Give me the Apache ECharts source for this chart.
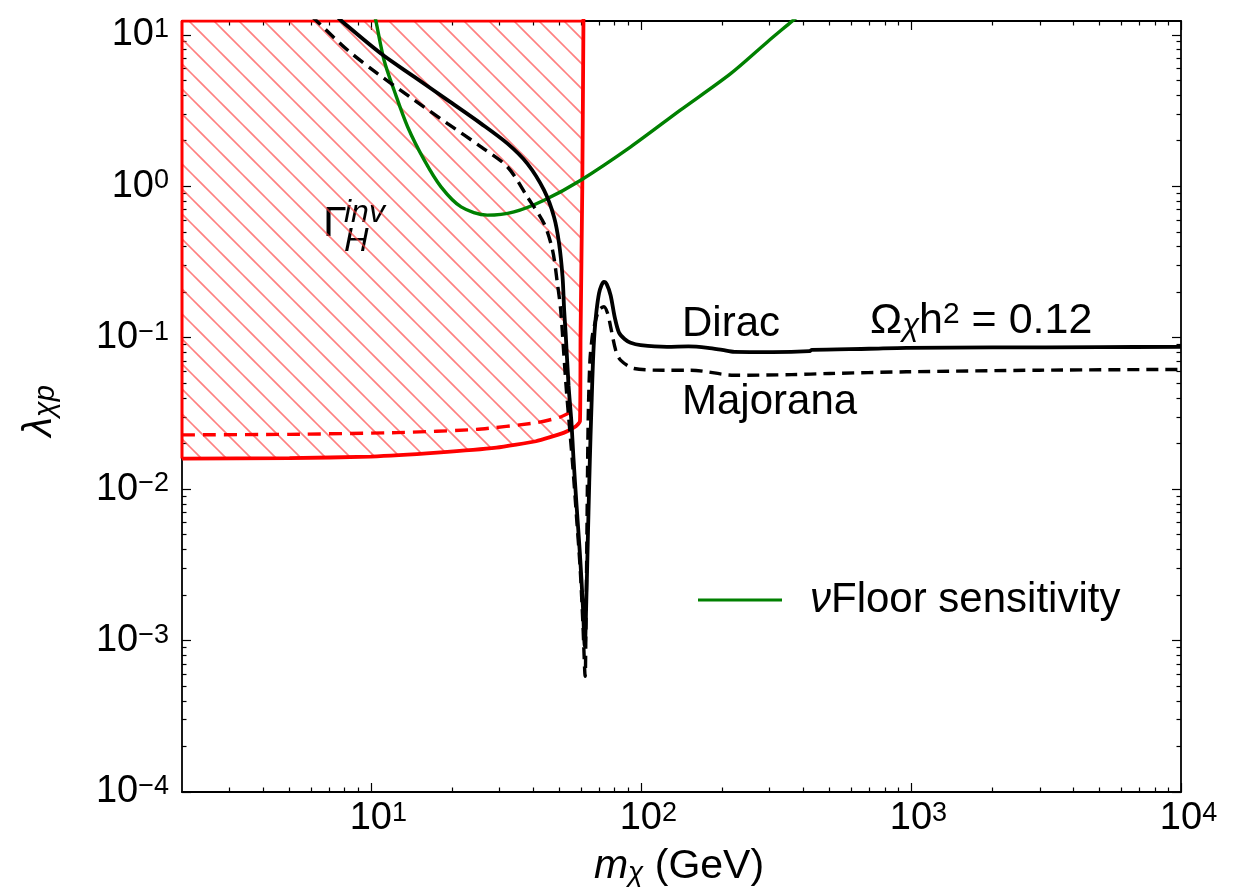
<!DOCTYPE html>
<html>
<head>
<meta charset="utf-8">
<script src="https://cdn.jsdelivr.net/npm/echarts@6.0.0/dist/echarts.min.js"></script>
<style>
html,body{margin:0;padding:0;background:#ffffff;}
#chart{width:1244px;height:890px;}
</style>
</head>
<body>
<div id="chart"></div>
<script>
// ---------------- data ----------------
const X_MIN = 2, X_MAX = 10000;
const Y_MIN = 1e-4, Y_MAX = 12.33;

const X_MAJOR = [10, 100, 1000, 10000];
const X_EXP = ['1', '2', '3', '4'];
const Y_MAJOR = [1e-4, 1e-3, 1e-2, 1e-1, 1, 10];
const Y_EXP = ['\u22124', '\u22123', '\u22122', '\u22121', '0', '1'];
const MINOR_MANTISSA = [2, 3, 4, 5, 6, 7, 8, 9];

// Dirac, Omega h^2 = 0.12 (solid black)
const dirac_mass = [7.5, 7.87, 10.9, 14.5, 19.25, 25.6, 32.1, 38.0, 43.8, 47.7, 49.8, 51.3, 52.0, 52.7, 54.0, 55.3, 56.3, 57.8, 59.5, 61.0, 62.0, 62.8, 63.6, 64.4, 65.1, 65.8, 66.5, 67.4, 68.5, 70.0, 71.5, 73.0, 74.8, 77.3, 80.0, 83.0, 87.0, 91.7, 99.8, 125, 150, 177, 200, 222, 308, 420, 430, 700, 963, 2000, 5000, 10000];
const dirac_lambda = [13.2, 12.15, 7.52, 5.27, 3.70, 2.59, 1.91, 1.41, 0.941, 0.627, 0.419, 0.252, 0.152, 0.105, 0.048, 0.028, 0.016, 0.0078, 0.0037, 0.0017, 0.00092, 0.0018, 0.0045, 0.011, 0.022, 0.04, 0.07, 0.11, 0.15, 0.196, 0.222, 0.2335, 0.225, 0.19, 0.137, 0.108, 0.098, 0.0925, 0.0892, 0.087, 0.0875, 0.0857, 0.083, 0.0806, 0.0803, 0.0815, 0.083, 0.0845, 0.0857, 0.0862, 0.0866, 0.0870];

// Majorana (dashed black)
const majorana_mass = [6.05, 6.36, 8.22, 10.6, 14.5, 19.25, 25.6, 32.1, 38.0, 43.8, 47.1, 49.1, 50.5, 51.8, 53.0, 54.5, 56.0, 57.8, 59.6, 61.0, 62.2, 62.6, 62.9, 63.2, 63.5, 63.9, 64.8, 66.0, 67.1, 70.0, 73.0, 75.3, 77.3, 80.7, 84.1, 94.3, 121.6, 153, 222, 362, 500, 963, 3000, 10000];
const majorana_lambda = [13.2, 12.15, 7.90, 5.54, 3.70, 2.59, 1.82, 1.34, 0.85, 0.567, 0.378, 0.228, 0.152, 0.08, 0.045, 0.025, 0.014, 0.0065, 0.003, 0.0013, 0.00058, 0.0012, 0.0025, 0.006, 0.014, 0.032, 0.071, 0.1, 0.118, 0.152, 0.16, 0.145, 0.118, 0.0827, 0.0711, 0.0626, 0.061, 0.061, 0.0565, 0.057, 0.058, 0.0595, 0.061, 0.0617];

// neutrino floor sensitivity (green)
const floor_mass = [10.33, 10.45, 11.2, 12.2, 13.7, 15.8, 18.2, 21.6, 27.0, 33.9, 43.8, 59.9, 91.7, 140, 215, 294, 363, 380];
const floor_lambda = [13.5, 12.3, 6.79, 4.30, 2.46, 1.48, 0.99, 0.730, 0.644, 0.677, 0.808, 1.096, 1.82, 3.18, 5.54, 8.97, 12.3, 13.2];

// invisible Higgs width bound, Dirac (solid red, hatched region above)
const higgs_dirac_mass = [2, 5, 10, 17.6, 29.2, 40.9, 52.0, 57.5, 59.5, 59.8, 60.7, 61.3, 61.35];
const higgs_dirac_lambda = [0.0159, 0.0160, 0.0164, 0.0174, 0.01876, 0.0207, 0.0236, 0.026, 0.028, 0.1, 1, 12.33, 14];

// invisible Higgs width bound, Majorana (dashed red)
const higgs_majorana_mass = [2, 5, 12.5, 24.6, 40.9, 50, 54.8];
const higgs_majorana_lambda = [0.0228, 0.0230, 0.0236, 0.0248, 0.0274, 0.0298, 0.0322];

// ---------------- helpers ----------------
const L = Math.log10;
const toLog = (xs, ys) => xs.map((x, i) => [L(x), L(ys[i])]);
function minorTicks(lo, hi) {
  const out = [];
  for (let k = Math.floor(L(lo)) - 1; k <= Math.ceil(L(hi)); k++) {
    for (const m of MINOR_MANTISSA) {
      const v = m * Math.pow(10, k);
      if (v > lo * 1.001 && v < hi * 0.999) out.push(L(v));
    }
  }
  return out;
}
const FONT = '"Liberation Sans", Arial, Helvetica, sans-serif';

// hatch pattern
const hatch = document.createElement('canvas');
hatch.width = 25; hatch.height = 25;
(function () {
  const c = hatch.getContext('2d');
  c.strokeStyle = 'rgba(255,60,60,0.65)';
  c.lineWidth = 1.6;
  for (const k of [-25, 0, 25]) {
    c.beginPath();
    c.moveTo(16 + k, -2);
    c.lineTo(45 + k, 27);
    c.stroke();
  }
})();

const xLabelRich = {
  b: { fontFamily: FONT, fontSize: 38, lineHeight: 38, color: '#000', padding: [0, 0, 0, 15] },
  s: { fontFamily: FONT, fontSize: 27, lineHeight: 20, color: '#000', verticalAlign: 'top' }
};
const yLabelRich = {
  b: { fontFamily: FONT, fontSize: 38, lineHeight: 38, color: '#000' },
  s: { fontFamily: FONT, fontSize: 27, lineHeight: 20, color: '#000', verticalAlign: 'top' }
};

function expFor(ticks, exps, v) {
  const i = ticks.findIndex(t => Math.abs(L(t) - v) < 1e-6);
  return i >= 0 ? exps[i] : '';
}

const tickLine = { color: '#000', width: 1.2 };
const frameLine = { show: true, onZero: false, lineStyle: { color: '#000', width: 1.8 } };
const noLine = { show: false, onZero: false };

function xAxis(position, major, withLabels, withLine) {
  return {
    type: 'value', gridIndex: 0, position: position,
    min: L(X_MIN), max: L(X_MAX),
    axisLine: withLine ? frameLine : noLine,
    splitLine: { show: false },
    axisTick: {
      show: true, inside: true, length: major ? 9 : 4.5, lineStyle: tickLine,
      customValues: major ? X_MAJOR.map(L) : minorTicks(X_MIN, X_MAX)
    },
    axisLabel: withLabels ? {
      show: true, margin: 8, customValues: X_MAJOR.map(L),
      formatter: v => '{b|10}{s|' + expFor(X_MAJOR, X_EXP, v) + '}',
      rich: xLabelRich
    } : { show: false }
  };
}
function yAxis(position, major, withLabels, withLine) {
  return {
    type: 'value', gridIndex: 0, position: position,
    min: L(Y_MIN), max: L(Y_MAX),
    axisLine: withLine ? frameLine : noLine,
    splitLine: { show: false },
    axisTick: {
      show: true, inside: true, length: major ? 9 : 4.5, lineStyle: tickLine,
      customValues: major ? Y_MAJOR.map(L) : minorTicks(Y_MIN, Y_MAX)
    },
    axisLabel: withLabels ? {
      show: true, margin: 13, customValues: Y_MAJOR.map(L),
      formatter: v => '{b|10}{s|' + expFor(Y_MAJOR, Y_EXP, v) + '}',
      rich: yLabelRich
    } : { show: false }
  };
}

const FLOOR_NAME = '\u03bdFloor sensitivity';
const hatchOutline = [
  [L(higgs_dirac_mass[higgs_dirac_mass.length - 2]), L(Y_MAX)],
  [L(X_MIN), L(Y_MAX)],
  [L(higgs_dirac_mass[0]), L(higgs_dirac_lambda[0])]
];

const chart = echarts.init(document.getElementById('chart'), null, { renderer: 'canvas' });
chart.setOption({
  animation: false,
  backgroundColor: '#ffffff',
  grid: { left: 182, right: 63, top: 21, bottom: 98, containLabel: false, outerBoundsMode: 'none' },
  xAxis: [
    xAxis('bottom', true, true, true),
    xAxis('bottom', false, false, false),
    xAxis('top', true, false, true),
    xAxis('top', false, false, false)
  ],
  yAxis: [
    yAxis('left', true, true, true),
    yAxis('left', false, false, false),
    yAxis('right', true, false, true),
    yAxis('right', false, false, false)
  ],
  legend: {
    show: true, left: 698, top: 579, orient: 'horizontal', padding: 0,
    itemWidth: 84, itemHeight: 3.2,
    data: [{ name: FLOOR_NAME, icon: 'rect' }],
    formatter: () => '{n|\u03bd}{t|Floor sensitivity}',
    textStyle: {
      rich: {
        n: { fontFamily: FONT, fontSize: 42, lineHeight: 46, fontStyle: 'italic', color: '#000', padding: [0, 0, 0, 23] },
        t: { fontFamily: FONT, fontSize: 42, lineHeight: 46, color: '#000' }
      }
    }
  },
  series: [
    {
      name: 'Higgs invisible width (Dirac)', type: 'line', xAxisIndex: 0, yAxisIndex: 0,
      data: toLog(higgs_dirac_mass, higgs_dirac_lambda),
      symbol: 'none', showSymbol: false, smooth: 0.15, silent: true, z: 2,
      itemStyle: { color: '#ff0000' },
      lineStyle: { color: '#ff0000', width: 3.8 },
      areaStyle: { origin: 'end', color: { image: hatch, repeat: 'repeat' }, opacity: 1 }
    },
    {
      name: 'Higgs region edge', type: 'line', xAxisIndex: 0, yAxisIndex: 0,
      data: hatchOutline, symbol: 'none', showSymbol: false, silent: true, z: 3,
      itemStyle: { color: '#ff0000' },
      lineStyle: { color: '#ff0000', width: 3 }
    },
    {
      name: 'Higgs invisible width (Majorana)', type: 'line', xAxisIndex: 0, yAxisIndex: 0,
      data: toLog(higgs_majorana_mass, higgs_majorana_lambda),
      symbol: 'none', showSymbol: false, smooth: 0.2, silent: true, z: 3,
      itemStyle: { color: '#ff0000' },
      lineStyle: { color: '#ff0000', width: 3.4, type: [13, 8] }
    },
    {
      name: FLOOR_NAME, type: 'line', xAxisIndex: 0, yAxisIndex: 0,
      data: toLog(floor_mass, floor_lambda),
      symbol: 'none', showSymbol: false, smooth: 0.3, silent: true, z: 4,
      itemStyle: { color: '#008000' },
      lineStyle: { color: '#008000', width: 3.4 }
    },
    {
      name: 'Dirac', type: 'line', xAxisIndex: 0, yAxisIndex: 0,
      data: toLog(dirac_mass, dirac_lambda),
      symbol: 'none', showSymbol: false, smooth: 0.3, silent: true, z: 5,
      itemStyle: { color: '#000000' },
      lineStyle: { color: '#000000', width: 3.8 }
    },
    {
      name: 'Majorana', type: 'line', xAxisIndex: 0, yAxisIndex: 0,
      data: toLog(majorana_mass, majorana_lambda),
      symbol: 'none', showSymbol: false, smooth: 0.3, silent: true, z: 5,
      itemStyle: { color: '#000000' },
      lineStyle: { color: '#000000', width: 3.4, type: [12, 7] }
    }
  ],
  graphic: [
    { type: 'text', x: 323, y: 224, silent: true,
      style: { text: '\u0393', fill: '#000', font: '43px ' + FONT, align: 'left', verticalAlign: 'middle', textAlign: 'left', textVerticalAlign: 'middle' } },
    { type: 'text', x: 344, y: 213, silent: true,
      style: { text: 'inv', fill: '#000', font: 'italic 32px ' + FONT, align: 'left', verticalAlign: 'middle', textAlign: 'left', textVerticalAlign: 'middle' } },
    { type: 'text', x: 344, y: 242, silent: true,
      style: { text: 'H', fill: '#000', font: 'italic 34px ' + FONT, align: 'left', verticalAlign: 'middle', textAlign: 'left', textVerticalAlign: 'middle' } },
    { type: 'text', x: 682, y: 324, silent: true,
      style: { text: 'Dirac', fill: '#000', font: '42px ' + FONT, align: 'left', verticalAlign: 'middle', textAlign: 'left', textVerticalAlign: 'middle' } },
    { type: 'text', x: 682, y: 402, silent: true,
      style: { text: 'Majorana', fill: '#000', font: '42px ' + FONT, align: 'left', verticalAlign: 'middle', textAlign: 'left', textVerticalAlign: 'middle' } },
    { type: 'text', x: 870, y: 321, silent: true,
      style: {
        text: '{a|\u03a9}{c|\u03c7}{a|h}{s|2}{a| = 0.12}', fill: '#000', font: '42px ' + FONT,
        align: 'left', verticalAlign: 'middle', textAlign: 'left', textVerticalAlign: 'middle',
        rich: {
          a: { fontFamily: FONT, fontSize: 43, lineHeight: 42, fill: '#000', color: '#000' },
          c: { fontFamily: FONT, fontSize: 31, lineHeight: 22, fontStyle: 'italic', verticalAlign: 'bottom', fill: '#000', color: '#000' },
          s: { fontFamily: FONT, fontSize: 30, lineHeight: 22, verticalAlign: 'top', fill: '#000', color: '#000' }
        }
      } },
    { type: 'text', x: 679, y: 867, silent: true,
      style: {
        text: '{m|m}{c|\u03c7}{t| (GeV)}', fill: '#000', font: '40px ' + FONT,
        align: 'center', verticalAlign: 'middle', textAlign: 'center', textVerticalAlign: 'middle',
        rich: {
          m: { fontFamily: FONT, fontSize: 41, lineHeight: 40, fontStyle: 'italic', fill: '#000', color: '#000' },
          c: { fontFamily: FONT, fontSize: 28, lineHeight: 18, fontStyle: 'italic', verticalAlign: 'bottom', fill: '#000', color: '#000' },
          t: { fontFamily: FONT, fontSize: 41, lineHeight: 40, fill: '#000', color: '#000' }
        }
      } },
    { type: 'text', x: 40, y: 411, rotation: Math.PI / 2, silent: true,
      style: {
        text: '{l|\u03bb}{c|\u03c7p}', fill: '#000', font: '40px ' + FONT,
        align: 'center', verticalAlign: 'middle', textAlign: 'center', textVerticalAlign: 'middle',
        rich: {
          l: { fontFamily: FONT, fontSize: 40, lineHeight: 40, fontStyle: 'italic', fill: '#000', color: '#000' },
          c: { fontFamily: FONT, fontSize: 29, lineHeight: 18, fontStyle: 'italic', verticalAlign: 'bottom', fill: '#000', color: '#000' }
        }
      } }
  ]
});
</script>
</body>
</html>
